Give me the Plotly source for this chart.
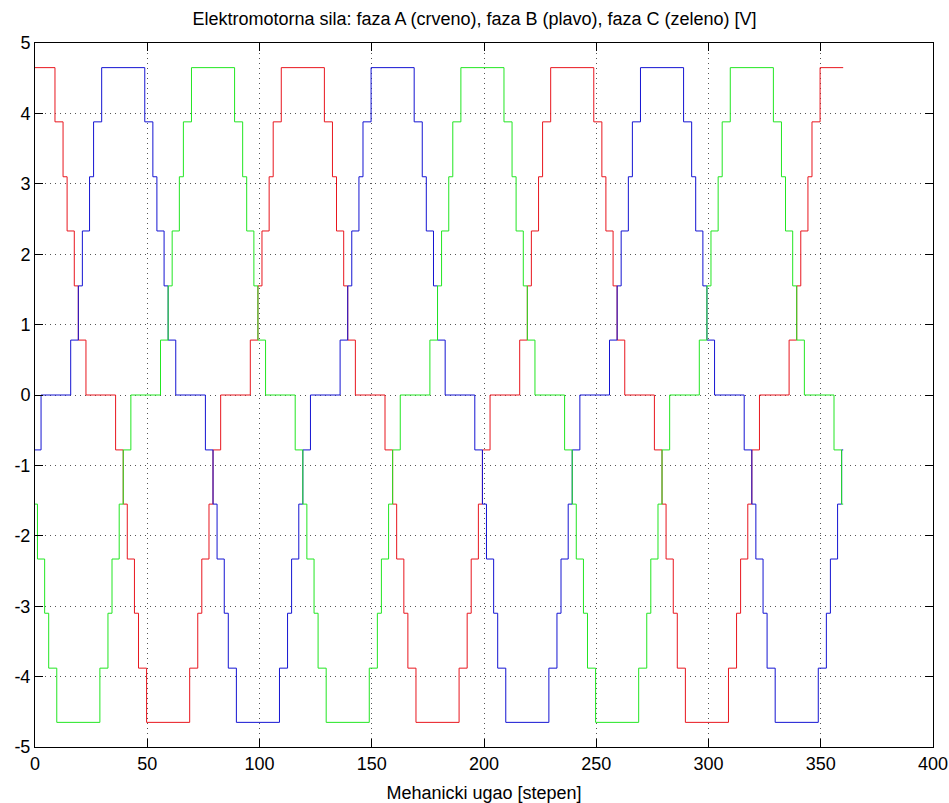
import plotly.graph_objects as go

# Phase A (red) step breakpoints [deg] and level after each breakpoint [V]
red_x = [0, 8.9, 12.5, 14.3, 17.5, 19.3, 22.7, 35.9, 39.3, 41.1, 44.3, 46.1, 49.7,
         68.9, 72.5, 74.3, 77.5, 79.3, 82.7, 95.9, 99.3, 101.1, 104.3, 106.1, 109.7,
         128.9, 132.5, 134.3, 137.5, 139.3, 142.7, 155.9, 159.3, 161.1, 164.3, 166.1, 169.7,
         188.9, 192.5, 194.3, 197.5, 199.3, 202.7, 215.9, 219.3, 221.1, 224.3, 226.1, 229.7,
         248.9, 252.5, 254.3, 257.5, 259.3, 262.7, 275.9, 279.3, 281.1, 284.3, 286.1, 289.7,
         308.9, 312.5, 314.3, 317.5, 319.3, 322.7, 335.9, 339.3, 341.1, 344.3, 346.1, 349.7,
         360]
red_y = [4.65, 3.88, 3.10, 2.33, 1.55, 0.78, 0, -0.78, -1.55, -2.33, -3.10, -3.88, -4.65,
         -3.88, -3.10, -2.33, -1.55, -0.78, 0, 0.78, 1.55, 2.33, 3.10, 3.88, 4.65,
         3.88, 3.10, 2.33, 1.55, 0.78, 0, -0.78, -1.55, -2.33, -3.10, -3.88, -4.65,
         -3.88, -3.10, -2.33, -1.55, -0.78, 0, 0.78, 1.55, 2.33, 3.10, 3.88, 4.65,
         3.88, 3.10, 2.33, 1.55, 0.78, 0, -0.78, -1.55, -2.33, -3.10, -3.88, -4.65,
         -3.88, -3.10, -2.33, -1.55, -0.78, 0, 0.78, 1.55, 2.33, 3.10, 3.88, 4.65,
         4.65]

# Phase B (blue)
blue_x = [0, 2.7, 15.9, 19.3, 21.1, 24.3, 26.1, 29.7,
          48.9, 52.5, 54.3, 57.5, 59.3, 62.7, 75.9, 79.3, 81.1, 84.3, 86.1, 89.7,
          108.9, 112.5, 114.3, 117.5, 119.3, 122.7, 135.9, 139.3, 141.1, 144.3, 146.1, 149.7,
          168.9, 172.5, 174.3, 177.5, 179.3, 182.7, 195.9, 199.3, 201.1, 204.3, 206.1, 209.7,
          228.9, 232.5, 234.3, 237.5, 239.3, 242.7, 255.9, 259.3, 261.1, 264.3, 266.1, 269.7,
          288.9, 292.5, 294.3, 297.5, 299.3, 302.7, 315.9, 319.3, 321.1, 324.3, 326.1, 329.7,
          348.9, 352.5, 354.3, 357.5, 359.3,
          360]
blue_y = [-0.78, 0, 0.78, 1.55, 2.33, 3.10, 3.88, 4.65,
          3.88, 3.10, 2.33, 1.55, 0.78, 0, -0.78, -1.55, -2.33, -3.10, -3.88, -4.65,
          -3.88, -3.10, -2.33, -1.55, -0.78, 0, 0.78, 1.55, 2.33, 3.10, 3.88, 4.65,
          3.88, 3.10, 2.33, 1.55, 0.78, 0, -0.78, -1.55, -2.33, -3.10, -3.88, -4.65,
          -3.88, -3.10, -2.33, -1.55, -0.78, 0, 0.78, 1.55, 2.33, 3.10, 3.88, 4.65,
          3.88, 3.10, 2.33, 1.55, 0.78, 0, -0.78, -1.55, -2.33, -3.10, -3.88, -4.65,
          -3.88, -3.10, -2.33, -1.55, -0.78,
          -0.78]

# Phase C (green)
green_x = [0, 1.1, 4.3, 6.1, 9.7, 28.9, 32.5, 34.3, 37.5, 39.3, 42.7, 55.9, 59.3, 61.1, 64.3, 66.1, 69.7,
           88.9, 92.5, 94.3, 97.5, 99.3, 102.7, 115.9, 119.3, 121.1, 124.3, 126.1, 129.7,
           148.9, 152.5, 154.3, 157.5, 159.3, 162.7, 175.9, 179.3, 181.1, 184.3, 186.1, 189.7,
           208.9, 212.5, 214.3, 217.5, 219.3, 222.7, 235.9, 239.3, 241.1, 244.3, 246.1, 249.7,
           268.9, 272.5, 274.3, 277.5, 279.3, 282.7, 295.9, 299.3, 301.1, 304.3, 306.1, 309.7,
           328.9, 332.5, 334.3, 337.5, 339.3, 342.7, 355.9, 359.3,
           360]
green_y = [-1.55, -2.33, -3.10, -3.88, -4.65, -3.88, -3.10, -2.33, -1.55, -0.78, 0, 0.78, 1.55, 2.33, 3.10, 3.88, 4.65,
           3.88, 3.10, 2.33, 1.55, 0.78, 0, -0.78, -1.55, -2.33, -3.10, -3.88, -4.65,
           -3.88, -3.10, -2.33, -1.55, -0.78, 0, 0.78, 1.55, 2.33, 3.10, 3.88, 4.65,
           3.88, 3.10, 2.33, 1.55, 0.78, 0, -0.78, -1.55, -2.33, -3.10, -3.88, -4.65,
           -3.88, -3.10, -2.33, -1.55, -0.78, 0, 0.78, 1.55, 2.33, 3.10, 3.88, 4.65,
           3.88, 3.10, 2.33, 1.55, 0.78, 0, -0.78, -1.55,
           -1.55]

x_ticks = [0, 50, 100, 150, 200, 250, 300, 350, 400]
y_ticks = [-5, -4, -3, -2, -1, 0, 1, 2, 3, 4, 5]

title_text = "Elektromotorna sila: faza A (crveno), faza B (plavo), faza C (zeleno) [V]"
x_label = "Mehanicki ugao [stepen]"

FONT = "Liberation Sans"

fig = go.Figure()
fig.add_trace(go.Scatter(x=red_x, y=red_y, mode="lines", line=dict(color="#e8161e", width=1, shape="hv")))
fig.add_trace(go.Scatter(x=blue_x, y=blue_y, mode="lines", line=dict(color="#1414d2", width=1, shape="hv")))
fig.add_trace(go.Scatter(x=green_x, y=green_y, mode="lines", line=dict(color="#22e622", width=1, shape="hv")))

axis_common = dict(
    showline=True, linecolor="black", linewidth=1, mirror="allticks",
    ticks="inside", ticklen=8, tickcolor="black",
    showgrid=True, gridcolor="#555555", griddash="1px,4px", gridwidth=1,
    zeroline=False, automargin=False,
    tickfont=dict(family=FONT, size=18, color="black"),
)

fig.update_layout(
    width=949, height=803,
    margin=dict(l=35, r=16, t=43, b=56),
    paper_bgcolor="white", plot_bgcolor="white",
    showlegend=False,
    title=dict(text=title_text, x=0.5, xanchor="center", y=0.977, yanchor="middle",
               font=dict(family=FONT, size=18, color="black")),
    font=dict(family=FONT, size=18, color="black"),
)
fig.update_xaxes(range=[0, 400], tickvals=x_ticks, ticktext=[str(v) for v in x_ticks],
                 ticklabelstandoff=0,
                 title=dict(text=x_label, font=dict(family=FONT, size=18)),
                 **axis_common)
fig.update_yaxes(range=[-5, 5], tickvals=y_ticks, ticktext=[str(v) for v in y_ticks],
                 **axis_common)

fig.write_html("out.html", config={"displayModeBar": False},
               post_script="document.body.style.margin='0px';document.body.style.overflow='hidden';")
